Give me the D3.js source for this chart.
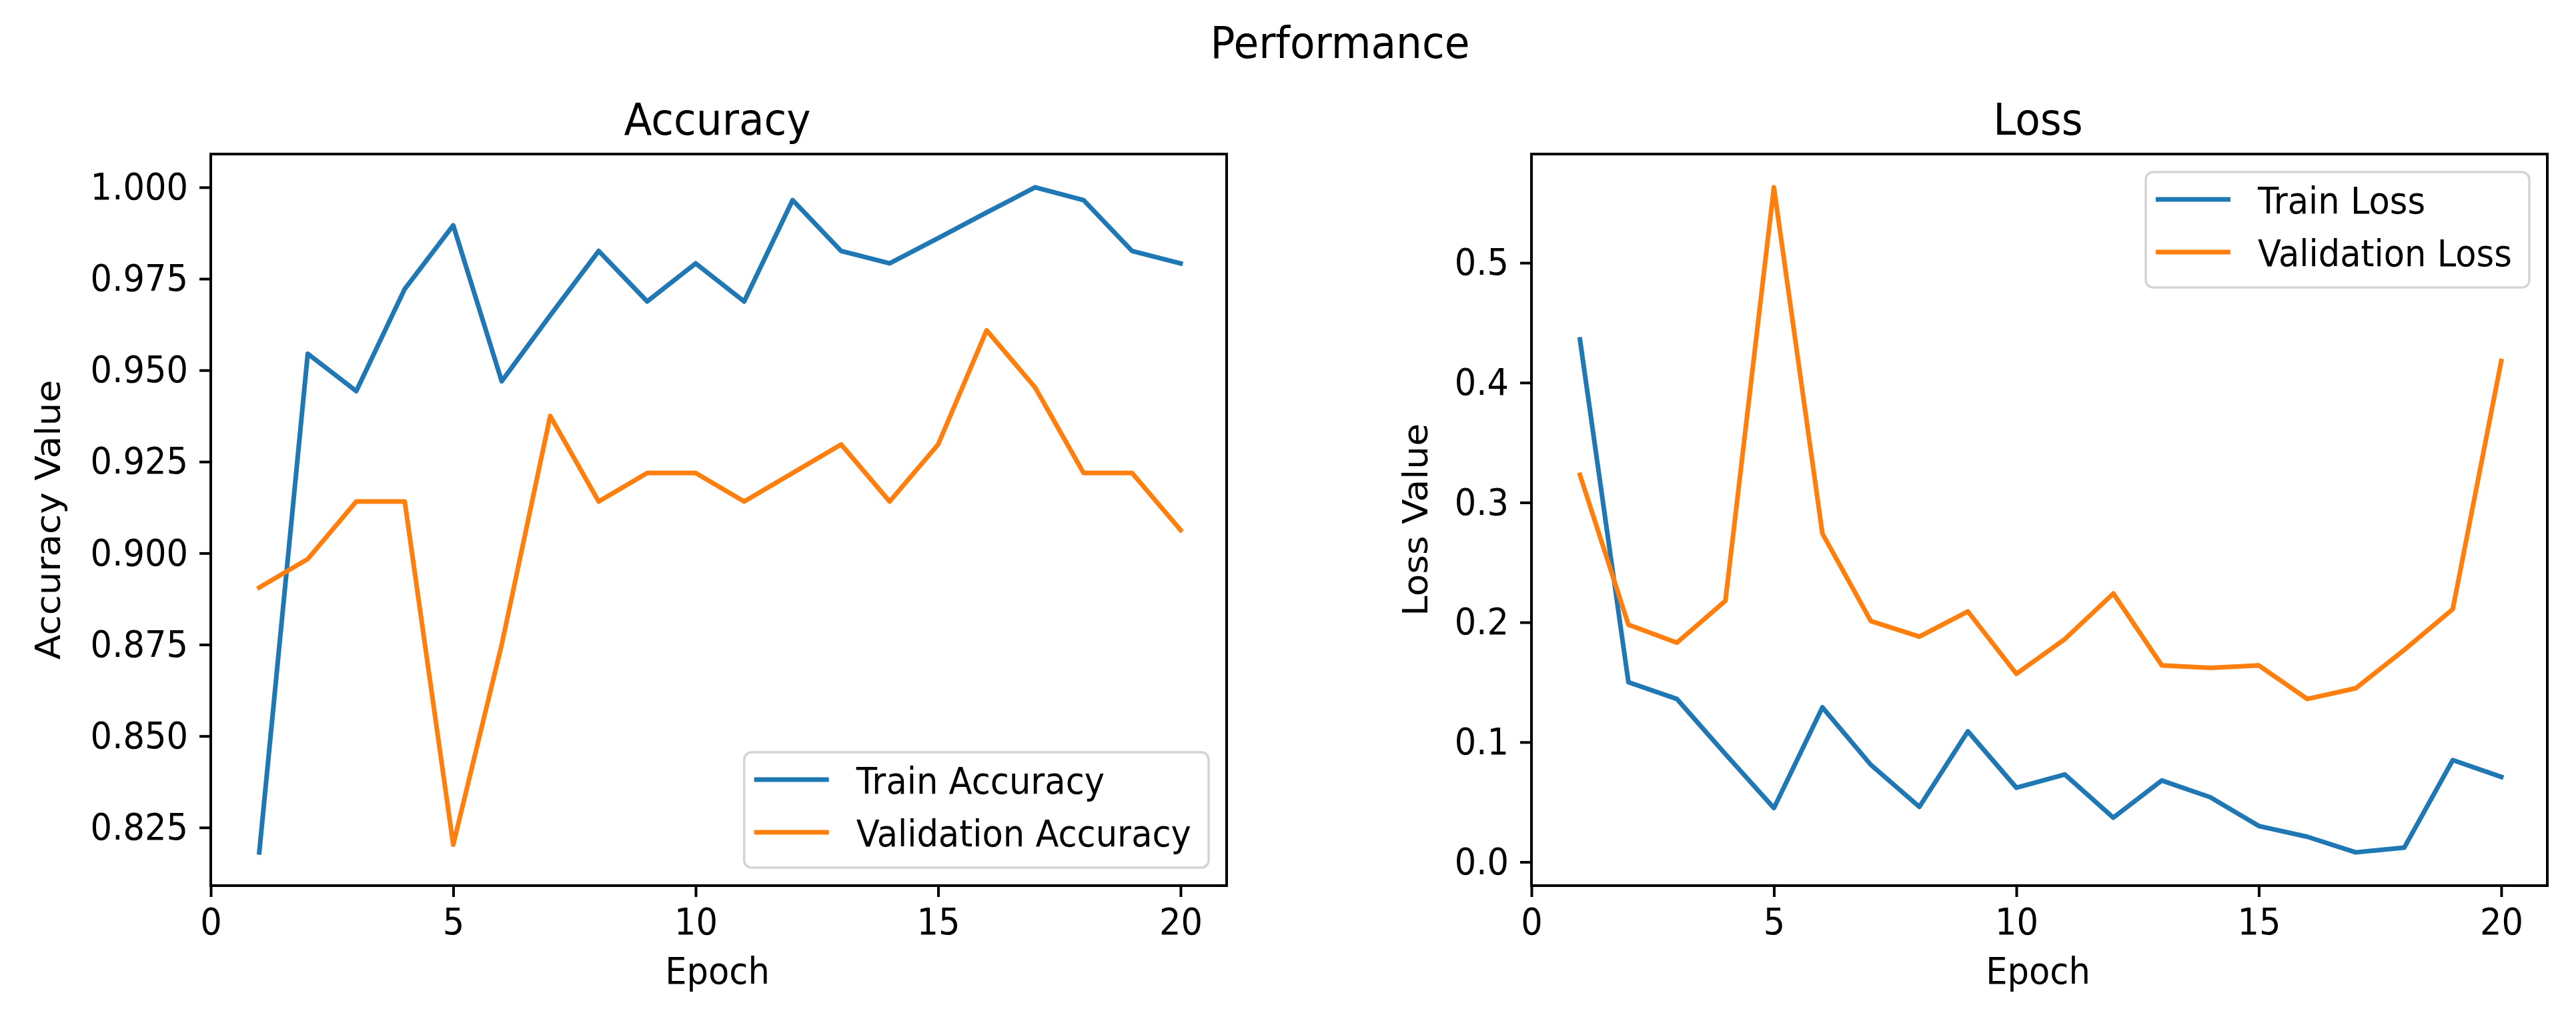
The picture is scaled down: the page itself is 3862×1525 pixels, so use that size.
<!DOCTYPE html>
<html><head><meta charset="utf-8">
<script src="https://cdn.jsdelivr.net/npm/d3@7"></script>
<style>
body{margin:0;background:#fff}
svg{display:block}
text{font-family:"DejaVu Sans",sans-serif;fill:#000}
</style>
</head><body>
<svg id="c" width="3862" height="1525"></svg>
<script>
// ---------------- DATA ----------------
const epochs = [1,2,3,4,5,6,7,8,9,10,11,12,13,14,15,16,17,18,19,20];
const trainAccuracy = [0.8182,0.9545,0.9443,0.9722,0.9896,0.9470,0.9650,0.9826,0.9688,0.9792,
                       0.9688,0.9965,0.9826,0.9792,0.9861,0.9931,1.0000,0.9965,0.9826,0.9792];
const valAccuracy   = [0.8906,0.8984,0.9141,0.9141,0.8203,0.8750,0.9375,0.9141,0.9219,0.9219,
                       0.9141,0.9219,0.9297,0.9141,0.9297,0.9609,0.9453,0.9219,0.9219,0.9063];
const trainLoss = [0.436,0.150,0.136,0.090,0.045,0.129,0.081,0.046,0.109,0.062,
                   0.073,0.037,0.068,0.054,0.030,0.021,0.008,0.012,0.085,0.071];
const valLoss   = [0.323,0.198,0.183,0.218,0.563,0.274,0.201,0.188,0.209,0.157,
                   0.186,0.224,0.164,0.162,0.164,0.136,0.145,0.177,0.211,0.418];
const xTickValues = [0,5,10,15,20];
const accTickValues = [0.825,0.850,0.875,0.900,0.925,0.950,0.975,1.000];
const lossTickValues = [0.0,0.1,0.2,0.3,0.4,0.5];
const suptitle = "Performance";
const accSeriesNames = ["Train Accuracy","Validation Accuracy"];
const lossSeriesNames = ["Train Loss","Validation Loss"];

// ---------------- STYLE ----------------
const BLUE = "#1f77b4", ORANGE = "#ff7f0e";
const FS = 55, TFS = 66, SX = 0.93;
const TICK = 17, PAD = 17, LW = 7, SPINE = 4;

const svg = d3.select("#c");
svg.append("rect").attr("width",3862).attr("height",1525).attr("fill","#fff");

function htext(g, x, y, str, size, anchor){
  return g.append("text")
    .attr("transform", `translate(${x},${y}) scale(${SX},1)`)
    .attr("text-anchor", anchor)
    .attr("font-size", size)
    .text(str);
}

htext(svg, 2009, 87, suptitle, TFS, "middle");

function panel(cfg){
  const {box, series, yTicks, fmt, title, ylabel, ylabelX, legend} = cfg;
  const g = svg.append("g");
  const x = d3.scaleLinear().domain([0, 20.95]).range([box.x0, box.x1]);
  const all = series.flatMap(s => s.values);
  const mn = d3.min(all), mx = d3.max(all), m = (mx - mn) * 0.05;
  const y = d3.scaleLinear().domain([mn - m, mx + m]).range([box.y1, box.y0]);

  const line = d3.line().x((d,i) => x(epochs[i])).y(d => y(d));
  series.forEach(s => {
    g.append("path").attr("d", line(s.values))
      .attr("fill","none").attr("stroke", s.color).attr("stroke-width", LW)
      .attr("stroke-linejoin","round").attr("stroke-linecap","square");
  });

  // x axis
  const ax = g.append("g").attr("transform", `translate(0,${box.y1})`)
    .call(d3.axisBottom(x).tickValues(xTickValues).tickSize(TICK).tickPadding(PAD).tickFormat(d3.format("d")));
  ax.attr("font-size", FS).attr("font-family", "DejaVu Sans");
  ax.select(".domain").remove();
  ax.selectAll(".tick line").attr("stroke","#000").attr("stroke-width", SPINE);
  ax.selectAll(".tick text").attr("fill","#000").attr("transform", `scale(${SX},1)`);

  // y axis
  const ay = g.append("g").attr("transform", `translate(${box.x0},0)`)
    .call(d3.axisLeft(y).tickValues(yTicks).tickSize(TICK).tickPadding(PAD).tickFormat(d3.format(fmt)));
  ay.attr("font-size", FS).attr("font-family", "DejaVu Sans");
  ay.select(".domain").remove();
  ay.selectAll(".tick line").attr("stroke","#000").attr("stroke-width", SPINE);
  ay.selectAll(".tick text").attr("fill","#000")
    .attr("x", -(TICK + PAD) / SX).attr("transform", `scale(${SX},1)`);

  // spines
  g.append("rect").attr("x", box.x0).attr("y", box.y0)
    .attr("width", box.x1 - box.x0).attr("height", box.y1 - box.y0)
    .attr("fill","none").attr("stroke","#000").attr("stroke-width", SPINE);

  // title & labels
  const cx = (box.x0 + box.x1) / 2 - 2;
  htext(g, cx, 202, title, TFS, "middle");
  htext(g, cx, 1475, "Epoch", FS, "middle");
  g.append("text")
    .attr("transform", `translate(${ylabelX},${(box.y0 + box.y1) / 2}) rotate(-90) scale(1,${SX})`)
    .attr("text-anchor","middle").attr("font-size", FS).text(ylabel);

  // legend
  const lg = g.append("g");
  const texts = series.map((s,i) => lg.append("text").attr("font-size", FS).text(s.name));
  const tw = d3.max(texts, t => t.node().getComputedTextLength()) * SX;
  const bw = 15 + 112 + 41 + tw + 26, bh = 173;
  const bx = box.x1 - 27 - bw;
  const by = legend === "lower right" ? box.y1 - 27 - bh : box.y0 + 27;
  lg.insert("rect", ":first-child").attr("x", bx).attr("y", by).attr("width", bw).attr("height", bh)
    .attr("rx", 11).attr("fill","#fff").attr("fill-opacity",0.8)
    .attr("stroke","#d4d4d4").attr("stroke-width",3.5);
  series.forEach((s,i) => {
    const ly = by + 41 + i * 79;
    lg.append("line").attr("x1", bx + 15).attr("x2", bx + 127).attr("y1", ly).attr("y2", ly)
      .attr("stroke", s.color).attr("stroke-width", LW);
    texts[i].attr("transform", `translate(${bx + 168},${ly + 21}) scale(${SX},1)`);
  });
}

panel({
  box: {x0:316, x1:1839, y0:231, y1:1328},
  series: [{name: accSeriesNames[0], values: trainAccuracy, color: BLUE},
           {name: accSeriesNames[1], values: valAccuracy, color: ORANGE}],
  yTicks: accTickValues, fmt: ".3f", title: "Accuracy", ylabel: "Accuracy Value", ylabelX: 90,
  legend: "lower right"
});
panel({
  box: {x0:2296, x1:3819, y0:231, y1:1328},
  series: [{name: lossSeriesNames[0], values: trainLoss, color: BLUE},
           {name: lossSeriesNames[1], values: valLoss, color: ORANGE}],
  yTicks: lossTickValues, fmt: ".1f", title: "Loss", ylabel: "Loss Value", ylabelX: 2140,
  legend: "upper right"
});
</script>
</body></html>
